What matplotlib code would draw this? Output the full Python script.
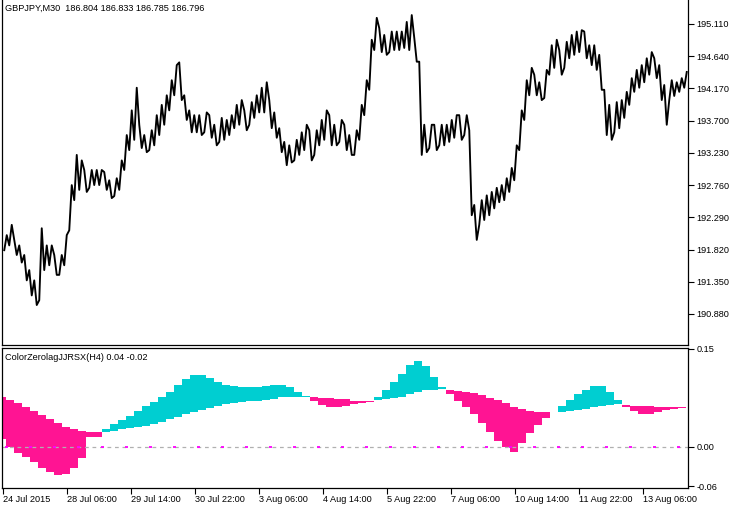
import matplotlib
matplotlib.use("Agg")
import matplotlib.pyplot as plt
import numpy as np

# ---------------- data ----------------
# GBPJPY M30: high / low of consecutive 5-bar blocks
block_high = [192.03, 192.18, 191.96, 191.88, 191.74, 191.52, 191.37, 192.13, 191.88, 191.88,
              191.74, 191.74, 192.03, 192.76, 193.20, 193.12, 192.98, 192.98, 192.98, 192.98,
              192.95, 192.83, 192.86, 193.12, 193.49, 193.85, 194.18, 193.64, 193.49, 193.56,
              193.78, 193.93, 194.07, 194.29, 194.51, 194.55, 194.07, 193.85, 193.78, 193.78,
              193.82, 193.78, 193.64, 193.74, 193.71, 193.78, 193.93, 194.00, 193.85, 193.97,
              194.07, 194.18, 194.26, 194.00, 193.82, 193.59, 193.39, 193.34, 193.42, 193.53,
              193.64, 193.56, 193.56, 193.71, 193.85, 193.78, 193.64, 193.71, 193.64, 193.49,
              193.56, 193.93, 194.29, 194.88, 195.20, 195.05, 194.95, 195.00, 195.00, 195.00,
              195.14, 195.24, 194.91, 194.56, 193.64, 193.64, 193.64, 193.64, 193.64, 193.71,
              193.78, 193.78, 193.78, 193.56, 192.47, 192.54, 192.61, 192.66, 192.72, 192.76,
              192.86, 193.01, 193.34, 193.85, 194.29, 194.47, 194.37, 194.26, 194.44, 194.80,
              194.88, 194.73, 194.85, 194.95, 195.00, 195.02, 195.00, 194.80, 194.80, 194.66,
              194.15, 193.93, 193.97, 194.00, 194.12, 194.32, 194.44, 194.51, 194.61, 194.70,
              194.61, 194.51, 194.22, 194.29, 194.26, 194.32, 194.41]
block_low = [191.81, 191.88, 191.74, 191.63, 191.37, 191.15, 191.01, 191.08, 191.52, 191.59,
             191.45, 191.45, 191.59, 192.10, 192.54, 192.69, 192.66, 192.72, 192.76, 192.76,
             192.69, 192.57, 192.60, 192.69, 192.98, 193.27, 193.42, 193.30, 193.24, 193.27,
             193.34, 193.49, 193.64, 193.85, 194.07, 194.00, 193.71, 193.53, 193.53, 193.49,
             193.53, 193.45, 193.34, 193.39, 193.42, 193.49, 193.59, 193.64, 193.56, 193.64,
             193.74, 193.82, 193.82, 193.59, 193.45, 193.24, 193.05, 193.09, 193.12, 193.20,
             193.27, 193.12, 193.20, 193.34, 193.42, 193.34, 193.34, 193.39, 193.27, 193.20,
             193.20, 193.42, 193.78, 194.15, 194.73, 194.70, 194.66, 194.70, 194.73, 194.73,
             194.76, 194.73, 194.56, 193.20, 193.24, 193.30, 193.27, 193.34, 193.34, 193.39,
             193.45, 193.42, 193.49, 192.32, 191.96, 192.18, 192.25, 192.32, 192.42, 192.51,
             192.54, 192.66, 192.83, 193.27, 193.71, 194.07, 194.07, 194.00, 194.03, 194.37,
             194.47, 194.37, 194.47, 194.61, 194.66, 194.70, 194.61, 194.51, 194.44, 194.15,
             193.49, 193.42, 193.53, 193.59, 193.74, 193.93, 194.12, 194.18, 194.26, 194.37,
             194.32, 194.00, 193.64, 194.00, 194.06, 194.12, 194.18]
BLOCK = 5  # M30 bars per block

# ColorZerolagJJRSX (H4 bars, each spans 8 M30 bars)
fast = [0.0118, 0.0005, -0.0092, -0.0153, -0.0230, -0.0321, -0.0383, -0.0429, -0.0413, -0.0321,
        -0.0168, 0.0153, 0.0153, 0.0271, 0.0352, 0.0413, 0.0475, 0.0556, 0.0628, 0.0693, 0.0761,
        0.0846, 0.0949, 0.1036, 0.1102, 0.1102, 0.1052, 0.0990, 0.0949, 0.0934, 0.0923, 0.0923,
        0.0923, 0.0934, 0.0949, 0.0949, 0.0914, 0.0837, 0.0781, 0.0704, 0.0643, 0.0617, 0.0617,
        0.0632, 0.0654, 0.0669, 0.0689, 0.0761, 0.0872, 0.0995, 0.1117, 0.1255, 0.1316, 0.1240,
        0.1067, 0.0914, 0.0807, 0.0709, 0.0617, 0.0505, 0.0372, 0.0234, 0.0096, -0.0005, -0.0072,
        0.0057, 0.0210, 0.0337, 0.0449, np.nan, 0.0628, 0.0719, 0.0811, 0.0872, 0.0934, 0.0934,
        0.0837, 0.0719, 0.0617, 0.0551, 0.0501, 0.0501, 0.0531, 0.0566, 0.0586, 0.0597, np.nan]
slow = [0.0770, 0.0719, 0.0669, 0.0617, 0.0551, 0.0490, 0.0429, 0.0367, 0.0311, 0.0276, 0.0250,
        0.0234, 0.0234, 0.0234, 0.0250, 0.0271, 0.0286, 0.0302, 0.0321, 0.0352, 0.0387, 0.0424,
        0.0464, 0.0505, 0.0540, 0.0566, 0.0592, 0.0628, 0.0658, 0.0678, 0.0693, 0.0700, 0.0709,
        0.0719, 0.0739, 0.0758, 0.0770, 0.0770, 0.0761, 0.0765, 0.0745, 0.0745, 0.0730, 0.0730,
        0.0709, 0.0709, 0.0709, 0.0719, 0.0735, 0.0755, 0.0770, 0.0811, 0.0846, 0.0872, 0.0872,
        0.0888, 0.0872, 0.0857, 0.0846, 0.0831, 0.0796, 0.0755, 0.0719, 0.0669, 0.0617, 0.0582,
        0.0556, 0.0540, 0.0540, np.nan, 0.0540, 0.0556, 0.0566, 0.0582, 0.0608, 0.0628, 0.0643,
        0.0654, 0.0643, 0.0632, 0.0628, 0.0628, 0.0617, 0.0617, 0.0617, 0.0612, np.nan]

time_labels = ["24 Jul 2015", "28 Jul 06:00", "29 Jul 14:00", "30 Jul 22:00", "3 Aug 06:00",
               "4 Aug 14:00", "5 Aug 22:00", "7 Aug 06:00", "10 Aug 14:00", "11 Aug 22:00",
               "13 Aug 06:00"]
price_ticks = [195.110, 194.640, 194.170, 193.700, 193.230, 192.760, 192.290, 191.820, 191.350,
               190.880]
osc_ticks = [0.15, 0.00, -0.06]

title_main = "GBPJPY,M30  186.804 186.833 186.785 186.796"
title_osc = "ColorZerolagJJRSX(H4) 0.04 -0.02"

# ---------------- layout ----------------
W, H = 740, 508
fig = plt.figure(figsize=(W / 100, H / 100), dpi=100)
FONT = "Liberation Sans"
FS = 6.6


def rect(l, t, r, b):
    return [l / W, 1 - b / H, (r - l) / W, (b - t) / H]


ax1 = fig.add_axes(rect(2, 0, 688, 345))
ax2 = fig.add_axes(rect(2, 348, 688, 488))

XMIN, XMAX = -1, 685
H4 = 8
OFF = -5

# ---- price panel: path through each block's extremes, in the direction of the move
hi = np.array(block_high)
lo = np.array(block_low)
mid = (hi + lo) / 2
rising = np.r_[True, np.diff(mid) >= 0]
j = np.arange(len(hi))
first = np.where(rising, lo, hi)
second = np.where(rising, hi, lo)
px = np.column_stack([j * BLOCK + 1.25, j * BLOCK + 3.75]).ravel()
py = np.column_stack([first, second]).ravel()
ax1.plot(px, py, color="black", lw=1.35)
ax1.set_xlim(XMIN, XMAX)
ax1.set_ylim(190.427, 195.460)
ax1.set_xticks([])
ax1.yaxis.tick_right()
ax1.set_yticks(price_ticks)
ax1.set_yticklabels([f"{v:.3f}" for v in price_ticks], fontsize=FS, family=FONT)
ax1.tick_params(axis="y", direction="out", length=4, width=0.8, pad=2, color="black")
ax1.spines["top"].set_visible(False)
for s in ("left", "right", "bottom"):
    ax1.spines[s].set_linewidth(0.9)
ax1.text(3 / 686, 1 - 8 / 345, title_main, transform=ax1.transAxes, fontsize=FS, family=FONT,
         va="center", ha="left")

# ---- oscillator panel
fa = np.array(fast, dtype=float)
sl = np.array(slow, dtype=float)
k = np.arange(len(fa))
low_ = np.minimum(fa, sl)
high_ = np.maximum(fa, sl)
cols = np.where(fa >= sl, "#00CED1", "#FF1493")
ax2.bar(k * H4 + OFF, high_ - low_, bottom=low_, width=H4, align="edge", color=cols, linewidth=0,
        antialiased=False)
ax2.axhline(0, color="#b0b0b0", lw=0.9, ls=(0, (3, 3)), zorder=1)
mk = np.arange(3, XMAX, 24)
ax2.hlines(np.zeros(len(mk)), mk - 1.5, mk + 1.5, color="#ff00ff", lw=1.3, zorder=1.5)
ax2.set_xlim(XMIN, XMAX)
ax2.set_ylim(-0.0628, 0.1515)
ax2.yaxis.tick_right()
ax2.set_yticks(osc_ticks)
ax2.set_yticklabels(["0.15", "0.00", "-0.06"], fontsize=FS, family=FONT)
ax2.tick_params(axis="y", direction="out", length=4, width=0.8, pad=2, color="black")
ax2.set_xticks(np.arange(len(time_labels)) * 64)
ax2.set_xticklabels(time_labels, fontsize=FS, family=FONT, ha="left")
ax2.tick_params(axis="x", direction="out", length=4, width=0.8, pad=1, color="black")
for s in ("left", "right", "bottom", "top"):
    ax2.spines[s].set_linewidth(0.9)
ax2.text(3 / 686, 1 - 10 / 140, title_osc, transform=ax2.transAxes, fontsize=FS, family=FONT,
         va="center", ha="left")

fig.savefig("out.png", dpi=100)
